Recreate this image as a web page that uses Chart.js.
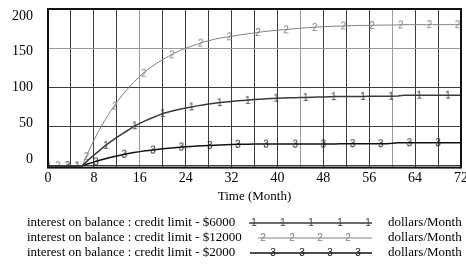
<!DOCTYPE html>
<html>
<head>
<meta charset="utf-8">
<script src="https://cdn.jsdelivr.net/npm/chart.js@4"></script>
<style>
  body { margin: 0; background: #fff; }
  #wrap { width: 466px; height: 267px; position: relative; }
</style>
</head>
<body>
<div id="wrap"><canvas id="chart"></canvas></div>
<script>

// months 0..72
const months = [];
for (let m = 0; m <= 72; m++) months.push(m);

// credit limit $6000
const limit6000 = [0, 0, 0, 0, 0, 0, 0, 7, 13.5, 19.5, 25.5, 31, 36, 41, 45.5, 50.5, 54, 57.5, 60.5, 63.5,
  66.5, 68.5, 70.5, 72, 73.5, 75, 76.3, 77.5, 78.7, 79.7, 80.5, 81.3, 82, 82.7, 83.2, 83.7, 84.3, 84.8, 85.3, 85.8,
  86.2, 86.4, 86.6, 86.8, 86.9, 87.1, 87.3, 87.5, 87.8, 88, 88.2, 88.2, 88.3, 88.3, 88.4, 88.4, 88.5, 88.5, 88.6, 88.6,
  88.7, 88.8, 90, 90, 90, 90, 90, 90, 90, 90, 90, 90, 90];

// credit limit $12000
const limit12000 = [0, 0, 0, 0, 0, 0, 0, 17, 32.5, 46.5, 59, 70.5, 81, 90.5, 99, 107, 114, 120.5, 126, 131,
  135.5, 139.5, 143.5, 147, 150, 152.5, 155, 157.5, 159.5, 161.3, 163, 164, 165, 166.3, 167.5, 168.5, 169.5, 170.5, 171.5, 172.3,
  173, 173.5, 174, 175, 175.5, 176, 176.5, 177, 177.3, 177.7, 178, 178.2, 178.5, 178.7, 179, 179, 179, 179.3, 179.5, 179.5,
  179.5, 179.7, 180, 180, 180, 180, 180, 180, 180, 180, 180, 180, 180];

// credit limit $2000
const limit2000 = [0, 0, 0, 0, 0, 0, 0, 2.5, 4.5, 6.8, 8.8, 10.6, 12.3, 14, 15.4, 16.7, 17.9, 19, 19.8, 20.7,
  21.5, 22.2, 22.9, 23.5, 24, 24.5, 25, 25.4, 25.8, 26.1, 26.4, 26.7, 27, 27.2, 27.3, 27.4, 27.5, 27.5, 27.5, 27.5,
  27.5, 27.5, 27.5, 27.5, 27.5, 27.5, 27.5, 27.5, 27.5, 27.5, 27.5, 28, 28, 28, 28, 28, 28, 28, 28, 28,
  28.5, 29.3, 29.3, 29.3, 29.3, 29.3, 29.3, 29.3, 29.3, 29.3, 29.3, 29.3, 29.3];

// number markers along each line (month, value)
const marks1X = [0.1, 5.1, 10.1, 15.1, 20, 25, 29.9, 34.8, 39.8, 44.9, 49.8, 54.9, 59.8, 64.7, 69.7];
const marks1Y = [0, 0, 26, 51, 66.8, 75, 80.4, 83.4, 86.2, 87.1, 88.2, 88.4, 88.6, 90, 90];
const marks2X = [1.7, 6.7, 11.65, 16.7, 21.6, 26.6, 31.6, 36.6, 41.5, 46.5, 51.5, 56.5, 61.5, 66.5, 71.4];
const marks2Y = [0, 11.6, 76, 118, 141.5, 156.5, 164.5, 170, 173.5, 176.5, 178.3, 179, 179.7, 180, 180];
const marks3X = [3.4, 8.35, 13.3, 18.3, 23.25, 28.2, 33.1, 38, 43.1, 48, 53.1, 58, 63, 68];
const marks3Y = [0, 4.8, 14.5, 19.9, 23.8, 25.9, 27.2, 27.5, 27.5, 27.5, 28, 28, 29.3, 29.3];

const yTicks = [0, 50, 100, 150, 200];

// grid lines that come out lighter in the original
const lightX = [16, 44, 60];
const lightY = [150];

const legendNames = [
  "interest on balance : credit limit - $6000",
  "interest on balance : credit limit - $12000",
  "interest on balance : credit limit - $2000"
];
const unitLabel = "dollars/Month";

const colors = ["#3a3a3a", "#808080", "#111111"];
const serif = "'Liberation Serif', 'Times New Roman', serif";

// small canvas with a digit, used as point style
function digitImage(txt, color) {
  let c = document.createElement("canvas");
  c.width = 8;
  c.height = 11;
  let g = c.getContext("2d");
  g.font = "10px 'Liberation Sans', Arial, sans-serif";
  g.fillStyle = color;
  g.textAlign = "center";
  g.textBaseline = "middle";
  g.fillText(txt, 4, 6);
  return c;
}

const digits = [digitImage("1", colors[0]), digitImage("2", colors[1]), digitImage("3", colors[2])];

function toXY(xs, ys) {
  return xs.map((x, i) => ({x: x, y: ys[i]}));
}

function lineSet(values, i, width) {
  return {
    type: "line",
    data: toXY(months, values),
    borderColor: colors[i],
    borderWidth: width,
    pointRadius: 0,
    tension: 0,
    fill: false
  };
}

function markSet(xs, ys, i) {
  return {
    type: "scatter",
    data: toXY(xs, ys),
    pointStyle: digits[i],
    pointRadius: 4,
    borderColor: colors[i],
    backgroundColor: colors[i]
  };
}

function gridColor(list) {
  return (ctx) => (ctx.tick && list.includes(ctx.tick.value) ? "#9a9a9a" : "#3c3c3c");
}

// frame round the plot
const framePlugin = {
  id: "frame",
  afterDatasetsDraw(chart) {
    const a = chart.chartArea;
    const ctx = chart.ctx;
    ctx.save();
    ctx.strokeStyle = "#111";
    ctx.lineWidth = 2;
    ctx.strokeRect(a.left, a.top, a.right - a.left, a.bottom - a.top);
    ctx.restore();
  }
};

// legend rows under the chart
const legendPlugin = {
  id: "rowsLegend",
  afterDraw(chart) {
    const ctx = chart.ctx;
    const rows = [
      {y: 223, x0: 249, marks: [254, 282.7, 311, 340, 368], w: 1.5},
      {y: 238, x0: 258, marks: [263, 292, 320, 348], w: 1},
      {y: 253, x0: 250, marks: [273, 302, 330, 358], w: 1.5}
    ];
    ctx.save();
    ctx.font = "13px " + serif;
    ctx.textBaseline = "middle";
    rows.forEach((r, i) => {
      ctx.fillStyle = "#000";
      ctx.fillText(legendNames[i], 27, r.y);
      ctx.fillText(unitLabel, 388, r.y);
      ctx.strokeStyle = colors[i];
      ctx.lineWidth = r.w;
      ctx.beginPath();
      ctx.moveTo(r.x0, r.y);
      ctx.lineTo(372, r.y);
      ctx.stroke();
      r.marks.forEach((mx) => {
        ctx.drawImage(digits[i], mx - 4, r.y - 6);
      });
    });
    ctx.restore();
  }
};

const tickFont = {family: serif, size: 14};

new Chart(document.getElementById("chart"), {
  data: {
    datasets: [
      lineSet(limit6000, 0, 1.5),
      lineSet(limit12000, 1, 1),
      lineSet(limit2000, 2, 1.5),
      markSet(marks1X, marks1Y, 0),
      markSet(marks2X, marks2Y, 1),
      markSet(marks3X, marks3Y, 2)
    ]
  },
  options: {
    responsive: true,
    maintainAspectRatio: false,
    animation: false,
    layout: {padding: {top: 9, right: 4, bottom: 63, left: 0}},
    plugins: {legend: {display: false}, tooltip: {enabled: false}},
    scales: {
      x: {
        type: "linear",
        min: 0,
        max: 72,
        ticks: {
          stepSize: 4,
          autoSkip: false,
          maxRotation: 0,
          padding: 2,
          color: "#000",
          font: tickFont,
          callback: (v) => (v % 8 === 0 ? v : "")
        },
        grid: {color: gridColor(lightX), drawTicks: false},
        border: {display: false},
        title: {display: true, text: "Time (Month)", color: "#000", font: {family: serif, size: 13}, padding: {top: 0, bottom: 0}},
        afterFit: (s) => { s.paddingLeft = 0; s.paddingRight = 0; }
      },
      y: {
        min: -2.5,
        max: 200,
        afterBuildTicks: (s) => { s.ticks = yTicks.map((v) => ({value: v})); },
        ticks: {display: false},
        grid: {color: gridColor(lightY), drawTicks: false},
        border: {display: false},
        afterFit: (s) => { s.width = 0; s.paddingTop = 0; s.paddingBottom = 0; }
      },
      // labels sit a bit inside the plot, like the original
      yLabels: {
        position: "left",
        min: -12.2,
        max: 210,
        afterBuildTicks: (s) => { s.ticks = yTicks.map((v) => ({value: v})); },
        ticks: {color: "#000", font: tickFont, padding: 7},
        grid: {display: false},
        border: {display: false},
        afterFit: (s) => { s.width = 48; s.paddingTop = 0; s.paddingBottom = 0; }
      }
    }
  },
  plugins: [framePlugin, legendPlugin]
});
</script>
</body>
</html>
